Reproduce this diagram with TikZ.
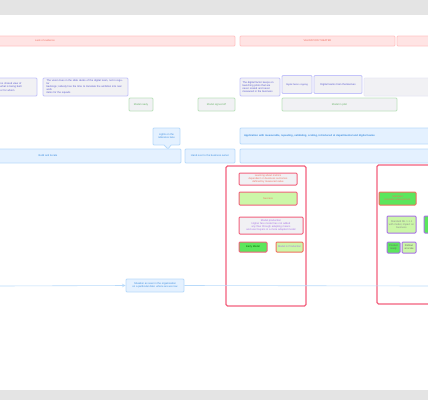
\documentclass[tikz,border=0pt]{standalone}
\usepackage{fontspec}
\setmainfont{Liberation Sans}
\usepackage{tikz}
\usetikzlibrary{arrows,positioning,shapes.callouts}
\usepackage{xcolor}

\definecolor{hdrfill}{HTML}{FFE4E4}
\definecolor{hdrline}{HTML}{FFC4C4}
\definecolor{hdrtext}{HTML}{F07060}
\definecolor{notefill}{HTML}{F1F1F4}
\definecolor{noteline}{HTML}{C4C4FA}
\definecolor{notetext}{HTML}{5A5AD0}
\definecolor{gateline}{HTML}{BCE2BC}
\definecolor{gatetext}{HTML}{6CB46C}
\definecolor{lanefill}{HTML}{E4F1FF}
\definecolor{laneline}{HTML}{B8DAFA}
\definecolor{lanetext}{HTML}{3F8FE0}
\definecolor{framered}{HTML}{F2607C}
\definecolor{brightgreen}{HTML}{5CE65C}
\definecolor{palegreen}{HTML}{CCF7A8}
\definecolor{violet}{HTML}{A872E6}
\definecolor{band}{HTML}{E4E4E4}

\newcommand{\tinyfont}{\fontsize{2.6}{3.1}\selectfont}

\begin{document}
\begin{tikzpicture}[x=1pt, y=-1pt,
	base/.style={draw, rounded corners=1pt, line width=0.8pt, inner sep=0.5pt,
		align=center, font=\tinyfont},
	hdr/.style={base, fill=hdrfill, draw=hdrline, text=hdrtext, minimum height=10pt},
	note/.style={base, fill=notefill, draw=noteline, text=notetext, minimum height=18pt},
	gate/.style={base, fill=notefill, draw=gateline, text=gatetext, minimum height=13pt},
	lane/.style={base, fill=lanefill, draw=laneline, text=lanetext, minimum height=14pt},
	card/.style={base, line width=1pt, inner sep=0.3pt},
	frame/.style={draw=framered, line width=1.2pt, rounded corners=1.5pt},
	arr/.style={-stealth, laneline, line width=0.6pt}
]
	\useasboundingbox (0,0) rectangle (428,400);
	\clip (0,0) rectangle (428,400);
	\fill[band] (0,0) rectangle (428,14.5);
	\fill[band] (0,390) rectangle (428,400);

	% headers
	\node[hdr, minimum width=380pt] (lack) at (45,41) {Lack of evidence};
	\node[hdr, minimum width=155pt] (theater) at (317.5,41) {VALIDATION THEATER};
	\node[hdr, minimum width=163pt] (next) at (478.5,41) {};

	% observations
	\node[note, minimum width=40pt, align=left, text width=33pt] (obsA) at (17,87)
		{no shared view of\\ what is being built\\ or for whom};
	\node[note, minimum width=85pt, align=left, text width=78pt] (obsB) at (85.5,87)
		{The vision lives in the slide decks of the digital team, not in regular\\ backlogs; nobody has the time to translate the ambition into real work\\ items for the squads};
	\node[note, minimum width=40pt, align=left, text width=35pt] (obsC) at (260,87)
		{The digital factor keeps on\\ launching pilots that are\\ never scaled and never\\ measured in the business};
	\node[note, minimum width=30pt, text width=29pt, font=\fontsize{2.3}{2.8}\selectfont] (obsD) at (297,84.5)
		{Digital factor ongoing};
	\node[note, minimum width=48pt, text width=46pt] (obsE) at (338,84.5)
		{Digital teams train themselves};
	\node[note, minimum width=116pt, fill=notefill, draw=notefill!80!noteline] (obsF) at (422,87) {};

	% gates
	\node[gate, minimum width=24pt] (ready) at (141,104.5) {Model ready};
	\node[gate, minimum width=37pt] (signed) at (216.5,104.5) {Model signed off};
	\node[gate, minimum width=115pt] (live) at (339.5,104.5) {Model in pilot};

	% lanes
	\node[lane, rectangle callout, minimum width=27pt, minimum height=17pt,
		callout absolute pointer={(168,149)}] (remark) at (166.5,136.5)
		{Lights on the\\ reference lane};
	\node[lane, minimum width=266pt] (build) at (48,156) {Build and iterate};
	\node[lane, minimum width=50pt] (handover) at (210,156) {Hand over to the business owner};
	\node[lane, minimum width=320pt, minimum height=16pt, align=left, text width=312pt,
		font=\tinyfont\bfseries] (apply) at (400,136)
		{Application with measurable, repeating, validating, scaling, introduced at departmental and digital teams};
	\node[lane, minimum width=320pt] (scale) at (400,156) {};

	% frames
	\node[frame, minimum width=80pt, minimum height=140pt] (frameA) at (266,236) {};
	\node[frame, minimum width=183pt, minimum height=139pt] (frameB) at (468.5,234.5) {};

	\node[card, fill=notefill, draw=framered, text=hdrtext, minimum width=58pt, minimum height=12pt]
		(plan) at (268,179) {Learning about metrics\\ dependent on business outcomes\\ defined by measured value};
	\node[card, fill=palegreen, draw=framered, text=hdrtext, minimum width=58pt, minimum height=13pt]
		(success) at (268,198.5) {Success};
	\node[card, fill=notefill, draw=framered, text=violet, minimum width=64pt, minimum height=17pt,
		text width=62pt] (review) at (271,225.5)
		{Model production\\ Higher fare model has not added any flow through adapting means\\ and user buyers in a more adapted model};
	\node[card, fill=brightgreen, draw=framered, text=black!60!green, minimum width=28pt, minimum height=10pt]
		(early) at (253,247) {Early Model};
	\node[card, fill=palegreen, draw=hdrtext, text=violet, minimum width=27pt, minimum height=10pt]
		(deploy) at (289.5,247) {Model in Production};

	\node[card, fill=brightgreen, draw=hdrtext, text=hdrtext, minimum width=37pt, minimum height=13pt]
		(value) at (397.5,198.5) {Validated\\ business value proven};
	\node[card, fill=palegreen, draw=violet, text=black!45, minimum width=29pt, minimum height=17pt]
		(ops) at (401.5,224.5) {Standard ML 1.1.1\\ with model, impact on\\ business};
	\node[card, fill=brightgreen, draw=violet, minimum width=26pt, minimum height=17pt]
		(opsNext) at (437,224.5) {};
	\node[card, fill=brightgreen, draw=violet, text=black!60, minimum width=13pt, minimum height=11pt]
		(prod) at (393.5,247.5) {Product\\ ready};
	\node[card, fill=palegreen, draw=violet, text=black!60, minimum width=14pt, minimum height=11pt]
		(rollout) at (409,247.5) {Rollout\\ at scale};

	% timeline
	\coordinate (tlStart) at (0,286);
	\coordinate (tlEnd) at (428,286);
	\node[lane, minimum width=58pt, minimum height=13pt] (today) at (155,285.5)
		{Situation as seen in the organisation\\ on a particular date: where are we now};
	\draw[arr] (tlStart) -- (today.west);
	\draw[laneline, line width=0.6pt] (today.east) -- (tlEnd);
\end{tikzpicture}
\end{document}
